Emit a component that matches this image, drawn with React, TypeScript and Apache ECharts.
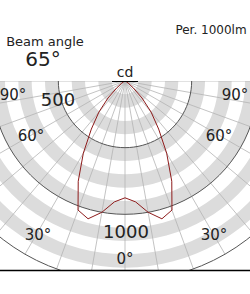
import React, { useEffect, useRef } from 'react';
import * as echarts from 'echarts';

// Polar luminous intensity distribution (cd per 1000 lm), angle 0° = straight down
const ANGLES = [-90, -85, -80, -75, -70, -65, -60, -55, -50, -45, -40, -35, -30, -25, -20, -15, -10, -5, 0,
  5, 10, 15, 20, 25, 30, 35, 40, 45, 50, 55, 60, 65, 70, 75, 80, 85, 90];
const INTENSITY = [0, 1, 2, 3, 5, 8, 15, 35, 80, 180, 305, 440, 625, 830, 1030, 1070, 1000, 910, 876,
  910, 1000, 1070, 1030, 830, 625, 440, 305, 180, 80, 35, 15, 8, 5, 3, 2, 1, 0];

const RADIUS_MAX = 1500;
const BAND_STEP = 100;
const MAJOR_STEP = 500;
const SPOKE_STEP = 10;

const ANGLE_LABELS = ['90°', '60°', '30°', '0°', '30°', '60°', '90°'];
const VALUE_LABELS = ['500', '1000'];
const TITLE = 'Beam angle';
const BEAM = '65°';
const UNIT = 'cd';
const NOTE = 'Per. 1000lm';

// layout (pixels)
const CX = 125;
const CY = 81;
const R = 200;
const ANGLE_LABEL_POS = [[13, 95], [31, 136], [38, 235], [125, 259], [214, 235], [219, 136], [235, 95]];
const VALUE_LABEL_POS = [[58, 99], [126, 231]];
const FONT = 'DejaVu Sans';
const TEXT_COLOR = '#222';

export default function App() {
  const ref = useRef<HTMLDivElement>(null);
  useEffect(() => {
    const chart = echarts.init(ref.current as HTMLDivElement, null, { renderer: 'svg' });
    const hidden = { show: false };
    const text = (t: string, x: number, y: number, size: number, align = 'center') => ({
      type: 'text',
      z: 110,
      style: {
        text: t, x, y, fill: TEXT_COLOR, fontSize: size, fontFamily: FONT,
        textAlign: align, textVerticalAlign: 'middle', verticalAlign: 'middle',
      },
    });
    const option: any = {
      animation: false,
      backgroundColor: '#ffffff',
      polar: [
        { center: [CX, CY], radius: R },
        { center: [CX, CY], radius: R },
      ],
      angleAxis: [
        {
          polarIndex: 0, type: 'value', min: -180, max: 180, interval: SPOKE_STEP,
          startAngle: 90, clockwise: true, z: 2,
          axisLine: hidden, axisTick: hidden, axisLabel: hidden,
          splitLine: { show: true, lineStyle: { color: '#b4b4b4', width: 0.8 } },
        },
        {
          polarIndex: 1, type: 'value', min: -180, max: 180, interval: 90,
          startAngle: 90, clockwise: true, z: 3,
          axisLine: hidden, axisTick: hidden, axisLabel: hidden, splitLine: hidden,
        },
      ],
      radiusAxis: [
        {
          polarIndex: 0, type: 'value', min: 0, max: RADIUS_MAX, interval: BAND_STEP, z: 1,
          axisLine: hidden, axisTick: hidden, axisLabel: hidden, splitLine: hidden,
          splitArea: { show: true, areaStyle: { color: ['#ffffff', '#dcdcdc'] } },
        },
        {
          polarIndex: 1, type: 'value', min: 0, max: RADIUS_MAX, interval: MAJOR_STEP, z: 3,
          axisLine: hidden, axisTick: hidden, axisLabel: hidden,
          splitLine: { show: true, lineStyle: { color: '#555555', width: 1 } },
        },
      ],
      series: [
        {
          type: 'line', coordinateSystem: 'polar', polarIndex: 0, z: 5,
          symbol: 'none', smooth: false,
          lineStyle: { color: '#8e1b1b', width: 1 },
          data: ANGLES.map((a, i) => [INTENSITY[i], a]),
        },
      ],
      graphic: [
        { type: 'rect', z: 100, shape: { x: 0, y: 0, width: 250, height: CY }, style: { fill: '#ffffff' } },
        { type: 'rect', z: 100, shape: { x: 0, y: 270, width: 250, height: 24 }, style: { fill: '#ffffff' } },
        { type: 'line', z: 105, shape: { x1: 112, y1: CY + 0.5, x2: 138, y2: CY + 0.5 }, style: { stroke: '#000', lineWidth: 1 } },
        { type: 'line', z: 105, shape: { x1: 0, y1: 270.5, x2: 250, y2: 270.5 }, style: { stroke: '#000', lineWidth: 1.5 } },
        text(NOTE, 211, 30, 12),
        text(TITLE, 45, 41, 13),
        text(BEAM, 43, 59, 20),
        text(UNIT, 125, 72, 14),
        ...ANGLE_LABELS.map((t, i) => text(t, ANGLE_LABEL_POS[i][0], ANGLE_LABEL_POS[i][1], 15)),
        ...VALUE_LABELS.map((t, i) => text(t, VALUE_LABEL_POS[i][0], VALUE_LABEL_POS[i][1], 18)),
      ],
    };
    chart.setOption(option);
    return () => chart.dispose();
  }, []);
  return (
    <div
      ref={ref}
      style={{ position: 'absolute', left: 0, top: 0, width: 250, height: 294, background: '#fff' }}
    />
  );
}
